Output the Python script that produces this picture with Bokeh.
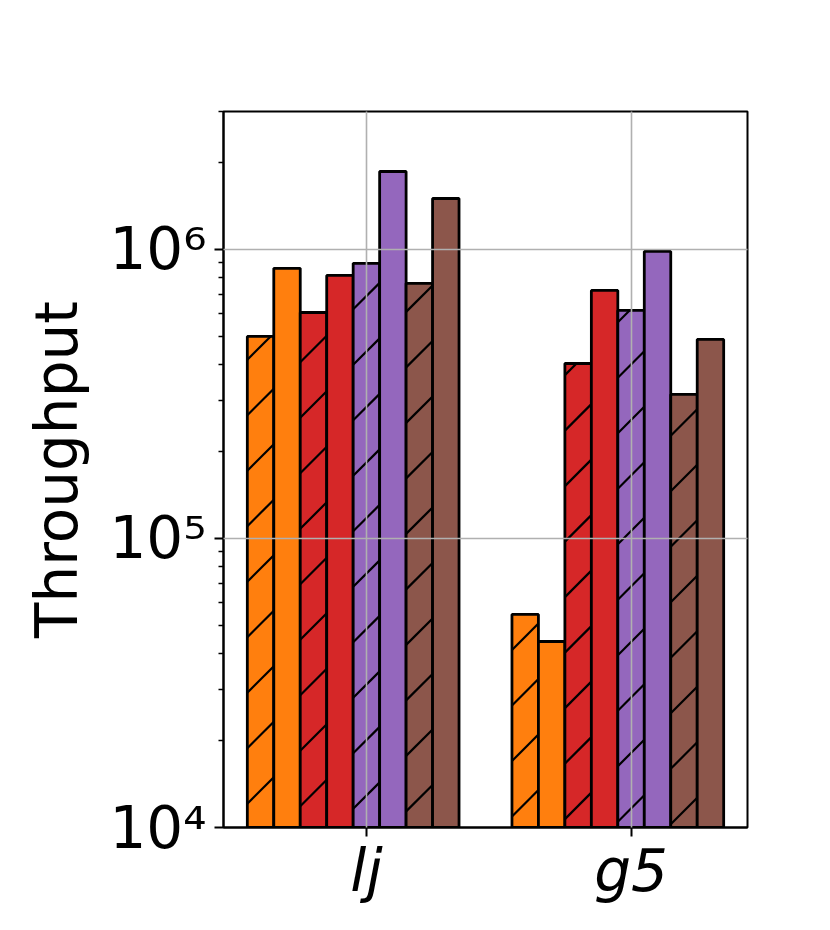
import math
from bokeh.plotting import figure
from bokeh.models import FixedTicker, Range1d
from bokeh.embed import file_html
from bokeh.resources import INLINE

# --- data ---
categories = ["lj", "g5"]
orange_hatched = [5.0e5, 5.46e4]
orange_solid = [8.6e5, 4.4e4]
red_hatched = [6.05e5, 4.03e5]
red_solid = [8.13e5, 7.21e5]
purple_hatched = [8.95e5, 6.15e5]
purple_solid = [1.86e6, 9.84e5]
brown_hatched = [7.63e5, 3.15e5]
brown_solid = [1.50e6, 4.88e5]
y_tick_values = [1e4, 1e5, 1e6]
y_tick_labels = ["10\u2074", "10\u2075", "10\u2076"]

series = [
    (orange_hatched, "#ff7f0e", True),
    (orange_solid, "#ff7f0e", False),
    (red_hatched, "#d62728", True),
    (red_solid, "#d62728", False),
    (purple_hatched, "#9467bd", True),
    (purple_solid, "#9467bd", False),
    (brown_hatched, "#8c564b", True),
    (brown_solid, "#8c564b", False),
]

FONT = "DejaVu Sans"
ystart, yend = 1e4, 3.0e6
xstart, xend = -0.54, 1.44
FW, FH = 524, 716
HATCH_SPACING = 55.5  # px, 45-degree "/" lines

p = figure(
    width=814, height=914,
    frame_width=FW, frame_height=FH,
    min_border_left=223, min_border_right=67,
    min_border_top=111, min_border_bottom=87,
    y_axis_type="log",
    x_range=Range1d(xstart, xend),
    y_range=Range1d(ystart, yend),
    output_backend="svg", toolbar_location=None,
)

kx = FW / (xend - xstart)
ky = FH / (math.log10(yend) - math.log10(ystart))

def to_sx(x):
    return (x - xstart) * kx

def to_sy(y):
    return (math.log10(y) - math.log10(ystart)) * ky

def from_sx(sx):
    return xstart + sx / kx

def from_sy(sy):
    return 10 ** (math.log10(ystart) + sy / ky)

def hatch_segments(xc, top, w):
    """45-degree '/' lines clipped to the bar [xc-w/2, xc+w/2] x [ystart, top]."""
    sx0, sx1 = to_sx(xc - w / 2), to_sx(xc + w / 2)
    st = to_sy(top)
    segs = []
    kmin = int(math.floor((0 - sx1) / HATCH_SPACING)) - 1
    kmax = int(math.ceil((st - sx0) / HATCH_SPACING)) + 1
    for k in range(kmin, kmax + 1):
        b = k * HATCH_SPACING  # line: sy = sx + b
        a = max(sx0, -b)
        e = min(sx1, st - b)
        if e - a > 0.5:
            segs.append((from_sx(a), from_sy(a + b), from_sx(e), from_sy(e + b)))
    return segs

width = 0.1
for i, (vals, color, hatched) in enumerate(series):
    xs = [g - 0.4 + width * i for g in range(len(categories))]
    p.vbar(x=xs, top=vals, bottom=ystart, width=width, fill_color=color,
           line_color=None)
    if hatched:
        segs = [s for xc, v in zip(xs, vals) for s in hatch_segments(xc, v, width)]
        p.segment(x0=[s[0] for s in segs], y0=[s[1] for s in segs],
                  x1=[s[2] for s in segs], y1=[s[3] for s in segs],
                  line_color="black", line_width=2.2)
    p.vbar(x=xs, top=vals, bottom=ystart, width=width, fill_color=None,
           line_color="black", line_width=2.8)

# x axis
p.xaxis.ticker = FixedTicker(ticks=list(range(len(categories))))
p.xaxis.major_label_overrides = {i: c for i, c in enumerate(categories)}
p.xaxis.major_label_text_font_style = "italic"

# y axis
minor = [m * 10 ** e for e in range(4, 7) for m in range(2, 10)]
p.yaxis.ticker = FixedTicker(ticks=y_tick_values, minor_ticks=minor)
p.yaxis.major_label_overrides = {v: l for v, l in zip(y_tick_values, y_tick_labels)}
p.yaxis.axis_label = "Throughput"
p.yaxis.axis_label_text_font = FONT
p.yaxis.axis_label_text_font_size = "58px"
p.yaxis.axis_label_text_font_style = "normal"
p.yaxis.axis_label_text_color = "black"
p.yaxis.axis_label_standoff = 15

for ax in (p.xaxis, p.yaxis):
    ax.major_label_text_font = FONT
    ax.major_label_text_font_size = "58px"
    ax.major_label_text_color = "black"
    ax.axis_line_width = 2
    ax.axis_line_color = "black"
    ax.major_tick_line_width = 2
    ax.minor_tick_line_width = 1.4
    ax.major_tick_out = 9
    ax.major_tick_in = 0
    ax.minor_tick_out = 5
    ax.minor_tick_in = 0
    ax.major_label_standoff = 8

p.xaxis.major_label_standoff = 0
p.xaxis.minor_tick_line_color = None

for g in (p.xgrid, p.ygrid):
    g.grid_line_color = "#b0b0b0"
    g.grid_line_width = 1.6
    g.level = "guide"
p.xgrid.ticker = p.xaxis.ticker
p.ygrid.ticker = FixedTicker(ticks=y_tick_values)

p.outline_line_color = "black"
p.outline_line_width = 2
p.outline_line_alpha = 1.0
p.background_fill_color = "white"
p.border_fill_color = "white"

open("out.html", "w").write(file_html(p, INLINE))
